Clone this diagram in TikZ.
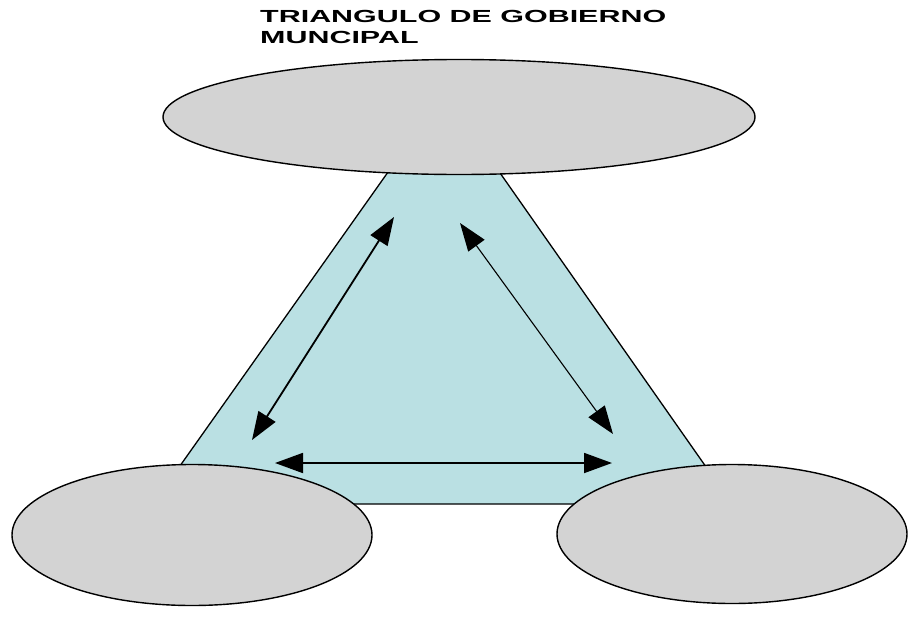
\documentclass[tikz,border=0pt]{standalone}
\usepackage{fontspec}
\usepackage{graphicx}
\usepackage{tikz}
\usetikzlibrary{arrows.meta}
\usetikzlibrary{shapes.geometric}
\newfontfamily\titulofont{Liberation Sans}
\definecolor{celeste}{RGB}{186,224,227}
\definecolor{gris}{RGB}{211,211,211}

\begin{document}
\begin{tikzpicture}[x=1pt,y=-1pt,>={Triangle[length=28pt,width=20pt]}] 
   \useasboundingbox (0,0) rectangle (910,621);
   \tikzset{polo/.style={ellipse,draw,fill=gris,line width=1.4pt,inner sep=0pt}}
   \tikzset{titulo/.style={anchor=base west,inner sep=0pt,font=\titulofont\bfseries\fontsize{17.5}{21}\selectfont}}
   % triangulo
   \coordinate (V) at (444,93);
   \coordinate (I) at (153,504);
   \coordinate (D) at (732,504);
   \draw[fill=celeste,line width=1.3pt] (V) -- (I) -- (D) -- cycle;
   % titulo
   \node[titulo] (T1) at (260,22.5) {\scalebox{1.74}[1]{TRIANGULO DE GOBIERNO}};
   \node[titulo] (T2) at (260,43.5) {\scalebox{1.74}[1]{MUNCIPAL}};
   % elipses
   \node[polo,minimum width=592pt,minimum height=115pt] (arriba) at (459,117) {};
   \node[polo,minimum width=360pt,minimum height=141pt] (izq) at (192,535) {};
   \node[polo,minimum width=350pt,minimum height=139pt] (der) at (732,534) {};
   % flechas
   \coordinate (a1) at (394,217);
   \coordinate (a2) at (252,440);
   \coordinate (b1) at (460,223);
   \coordinate (b2) at (613,434);
   \coordinate (c1) at (275,463);
   \coordinate (c2) at (612,463);
   \draw[<->,line width=1.8pt] (a1) -- (a2);
   \draw[<->,line width=1.1pt] (b1) -- (b2);
   \draw[<->,line width=1.8pt] (c1) -- (c2);
\end{tikzpicture}
\end{document}
